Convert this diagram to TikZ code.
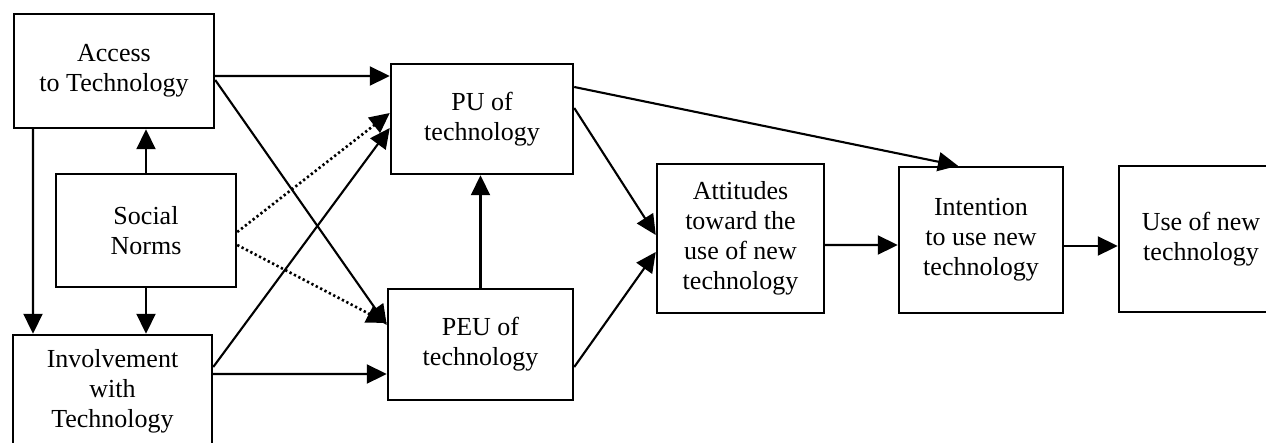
\documentclass[tikz,border=0pt]{standalone}
\usepackage{fontspec}
\setmainfont{Liberation Serif}
\usetikzlibrary{arrows.meta}

\begin{document}
\begin{tikzpicture}[x=0.2mm, y=-0.2mm, font=\fontsize{14.8}{17}\selectfont,
  fbox/.style={draw, line width=1.4pt, align=center, inner sep=0pt},
  a/.style={line width=1.2pt, -{Triangle[length=4mm, width=3.8mm]}},
  dotarr/.style={a, line width=1.5pt, dash pattern=on 1.3pt off 1.5pt}]
  \useasboundingbox (0,0) rectangle (1266,442);
  % boxes
  \node[fbox, minimum width=40mm, minimum height=22.8mm] (acc) at (114,71) {Access\\to Technology};
  \node[fbox, minimum width=36mm, minimum height=22.6mm] (soc) at (146,230.5) {Social\\Norms};
  \node[fbox, minimum width=39.8mm, minimum height=22.4mm] (inv) at (112.5,391) {Involvement\\with\\Technology};
  \node[fbox, minimum width=36.4mm, minimum height=22mm] (pu) at (482,119) {PU of\\technology};
  \node[fbox, minimum width=37mm, minimum height=22.2mm] (peu) at (480.5,344.5) {PEU of\\technology};
  \node[fbox, minimum width=33.4mm, minimum height=29.8mm] (att) at (740.5,238.5) {Attitudes\\toward the\\use of new\\technology};
  \node[fbox, minimum width=32.8mm, minimum height=29.2mm] (int) at (981,240) {Intention\\to use new\\technology};
  \node[fbox, minimum width=32.8mm, minimum height=29.2mm] (use) at (1201,239) {Use of new\\technology};
  % links
  \draw[a] (soc.north) -- (soc.north |- acc.south);
  \draw[a] (soc.south) -- (soc.south |- inv.north);
  \draw[a] ([xshift=-16.2mm]acc.south) -- ([xshift=-15.9mm]inv.north);
  \draw[a] ([yshift=-1mm]acc.east) -- ([yshift=8.6mm]pu.west);
  \draw[a] ([yshift=-1.8mm]acc.east) -- ([yshift=3.9mm]peu.west);
  \draw[a] ([yshift=4.8mm]inv.east) -- ([yshift=-1.8mm]pu.west);
  \draw[a] ([yshift=3.4mm]inv.east) -- ([yshift=-5.9mm]peu.west);
  \draw[dotarr] ([yshift=-0.3mm]soc.east) -- ([yshift=1.2mm]pu.west);
  \draw[dotarr] ([yshift=-2.9mm]soc.east) -- ([yshift=4.3mm]peu.west);
  \draw[a] (peu.north) -- (peu.north |- pu.south);
  \draw[a] ([yshift=2.2mm]pu.east) -- ([yshift=0.7mm]att.west);
  \draw[a] ([yshift=-4.5mm]peu.east) -- ([yshift=-2.7mm]att.west);
  \draw[a] ([yshift=6.4mm]pu.east) -- ([xshift=-4.6mm]int.north);
  \draw[a] ([yshift=-1.3mm]att.east) -- ([yshift=-1mm]int.west);
  \draw[a] ([yshift=-1.2mm]int.east) -- ([yshift=-1.4mm]use.west);
\end{tikzpicture}
\end{document}
